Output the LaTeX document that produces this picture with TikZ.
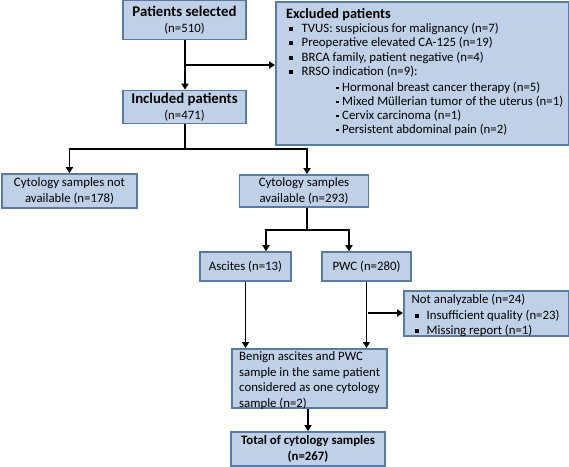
\documentclass[tikz,border=0pt]{standalone}
\usepackage{fontspec}
\setmainfont{Carlito}
\usetikzlibrary{arrows.meta}
\definecolor{boxfill}{HTML}{BFD0E7}
\definecolor{boxline}{HTML}{5A7BA6}
\newcommand{\sqbul}{\rule[0.25ex]{4pt}{4pt}}
\newcommand{\dotbul}{\rule[0.35ex]{2.6pt}{2.6pt}}
\newcommand{\headtext}[1]{{\fontsize{14.8}{15.5}\selectfont\textbf{#1}}}
\begin{document}
\begin{tikzpicture}[%
            x=1pt, y=-1pt,
            every node/.style={font=\fontsize{12.8}{15.5}\selectfont},
            flowbox/.style={draw=boxline, fill=boxfill, line width=1.6pt, inner sep=0pt, align=center},
            flowarrow/.style={draw, line width=1.6pt, -{Triangle[length=6pt,width=7pt]}},
            flowline/.style={draw, line width=1.6pt}
        ]
        \useasboundingbox (0,0) rectangle (569,466);

        % boxes
        \node [flowbox, minimum width=123pt, minimum height=39pt] (sel) at (184.5,20)
            {\headtext{Patients selected}\\(n=510)};
        \node [flowbox, minimum width=293pt, minimum height=143pt, anchor=north west] (excl) at (275,1) {};
        \node [align=left, anchor=north west, inner sep=0pt,
               font=\fontsize{12.8}{14.1}\selectfont] (excltext) at (286,8.5)
            {{\fontsize{14.3}{14.1}\selectfont\textbf{Excluded patients}}\\
             \makebox[15.5pt][l]{\hspace{3pt}\sqbul}TVUS: suspicious for malignancy (n=7)\\
             \makebox[15.5pt][l]{\hspace{3pt}\sqbul}Preoperative elevated CA-125 (n=19)\\
             \makebox[15.5pt][l]{\hspace{3pt}\sqbul}BRCA family, patient negative (n=4)\\
             \makebox[15.5pt][l]{\hspace{3pt}\sqbul}RRSO indication (n=9):\\[2pt]
             \hspace{50pt}\makebox[6pt][l]{\dotbul}Hormonal breast cancer therapy (n=5)\\
             \hspace{50pt}\makebox[6pt][l]{\dotbul}Mixed M\"ullerian tumor of the uterus (n=1)\\
             \hspace{50pt}\makebox[6pt][l]{\dotbul}Cervix carcinoma (n=1)\\
             \hspace{50pt}\makebox[6pt][l]{\dotbul}Persistent abdominal pain (n=2)};
        \node [flowbox, minimum width=123pt, minimum height=33pt] (incl) at (184.5,107)
            {\headtext{Included patients}\\(n=471)};
        \node [flowbox, minimum width=135pt, minimum height=34pt] (notavail) at (69.5,191)
            {Cytology samples not\\available (n=178)};
        \node [flowbox, minimum width=129pt, minimum height=32pt] (avail) at (304,191)
            {Cytology samples\\available (n=293)};
        \node [flowbox, minimum width=91pt, minimum height=29pt] (asc) at (245.5,266.5)
            {Ascites (n=13)};
        \node [flowbox, minimum width=89pt, minimum height=29pt] (pwc) at (366.5,266.5)
            {PWC (n=280)};
        \node [flowbox, minimum width=165pt, minimum height=45pt, anchor=north west] (notanal) at (403,290) {};
        \node [align=left, anchor=north west, inner sep=0pt] (notanaltext) at (411.5,294)
            {Not analyzable (n=24)\\
             \makebox[15pt][l]{\hspace{3pt}\sqbul}Insufficient quality (n=23)\\
             \makebox[15pt][l]{\hspace{3pt}\sqbul}Missing report (n=1)};
        \node [flowbox, minimum width=155pt, minimum height=59pt, anchor=north west] (benign) at (231,348) {};
        \node [align=left, anchor=north west, inner sep=0pt] (benigntext) at (239,351.5)
            {Benign ascites and PWC\\
             sample in the same patient\\
             considered as one cytology\\
             sample (n=2)};
        \node [flowbox, minimum width=154pt, minimum height=34pt] (total) at (308,449)
            {\textbf{Total of cytology samples}\\\textbf{(n=267)}};

        % connectors
        \coordinate (J1) at (185,65);
        \coordinate (J2) at (185,149);
        \coordinate (J3) at (307,230);
        \coordinate (J4) at (368,313);

        \draw [flowarrow] (sel.south -| J1) -- (incl.north -| J1);
        \draw [flowarrow] (J1) -- (J1 -| excl.west);
        \draw [flowline] (incl.south -| J2) -- (J2);
        \draw [flowarrow] (J2) -| (notavail.north);
        \draw [flowarrow] (J2) -| (avail.north -| J3);
        \draw [flowline] (avail.south -| J3) -- (J3);
        \draw [flowarrow] (J3) -| (asc.north -| 266,0);
        \draw [flowarrow] (J3) -| (pwc.north -| 349,0);
        \draw [flowarrow] (asc.south) -- (benign.north -| asc.south);
        \draw [flowarrow] (pwc.south) -- (benign.north -| pwc.south);
        \draw [flowarrow] (J4) -- (J4 -| notanal.west);
        \draw [flowarrow] (benign.south -| total.north) -- (total.north);
    \end{tikzpicture}
\end{document}
